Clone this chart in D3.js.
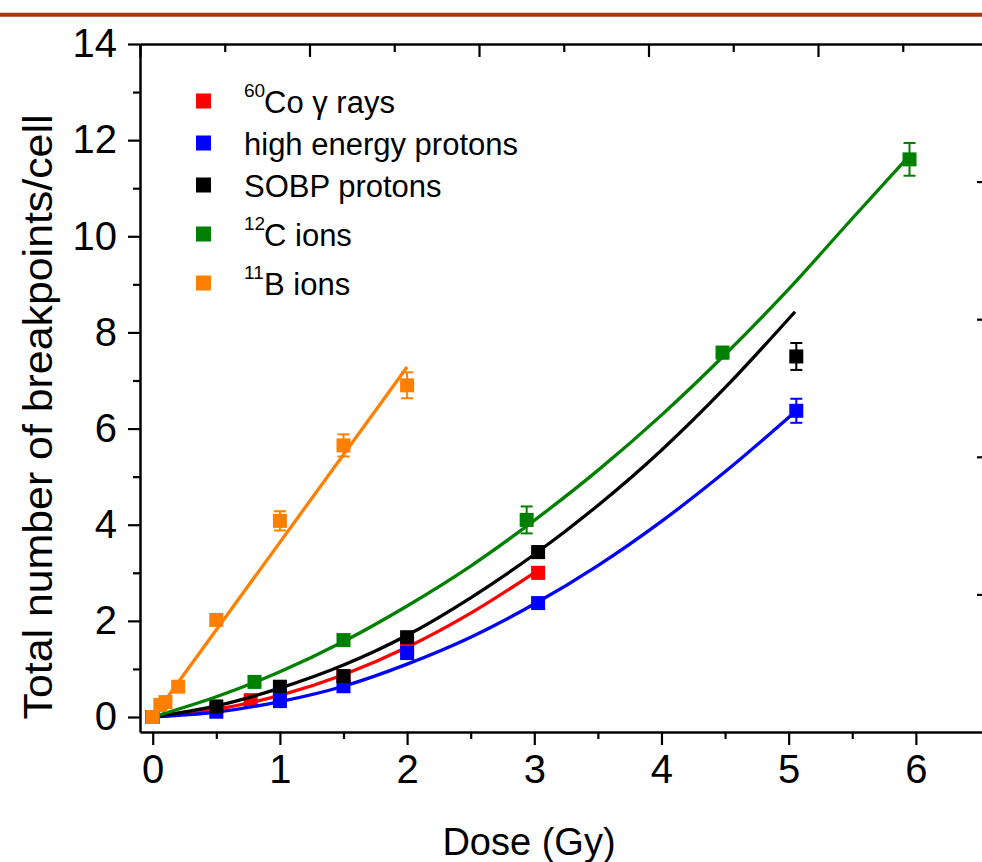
<!DOCTYPE html>
<html>
<head>
<meta charset="utf-8">
<script src="https://cdn.jsdelivr.net/npm/d3@7"></script>
<style>
  body { margin: 0; background: #fff; }
  svg { display: block; font-family: "Liberation Sans", Arial, sans-serif; }
</style>
</head>
<body>
<svg id="chart" width="982" height="862"></svg>
<script>
// measured points (dose in Gy, breakpoints per cell, error)
const coDose = [0, 0.77, 1, 1.5, 2, 3.03];
const coVal  = [0, 0.35, 0.42, 0.85, 1.45, 3.0];
const coErr  = [0, 0.08, 0.08, 0.08, 0.1, 0.12];

const hepDose = [0, 0.5, 1, 1.5, 2, 3.03, 5.06];
const hepVal  = [0, 0.11, 0.33, 0.64, 1.33, 2.37, 6.37];
const hepErr  = [0, 0.05, 0.06, 0.08, 0.1, 0.1, 0.25];

const sobpDose = [0, 0.5, 1, 1.5, 2, 3.03, 5.06];
const sobpVal  = [0, 0.22, 0.63, 0.85, 1.66, 3.43, 7.5];
const sobpErr  = [0, 0.05, 0.08, 0.1, 0.1, 0.12, 0.28];

const cDose = [0, 0.8, 1.5, 2.94, 4.48, 5.95];
const cVal  = [0, 0.73, 1.6, 4.1, 7.58, 11.6];
const cErr  = [0, 0.08, 0.1, 0.28, 0.12, 0.34];

const bDose = [0, 0.06, 0.1, 0.2, 0.5, 1, 1.5, 2];
const bVal  = [0, 0.25, 0.31, 0.63, 2.02, 4.08, 5.65, 6.9];
const bErr  = [0, 0.05, 0.05, 0.08, 0.1, 0.2, 0.23, 0.27];

// fitted curves
const coFitDose = [0, 0.5, 1, 1.5, 2, 2.5, 3];
const coFitVal  = [0, 0.16, 0.45, 0.88, 1.45, 2.16, 3.0];

const hepFitDose = [0, 0.5, 1, 1.5, 2, 2.5, 3, 3.5, 4, 4.5, 5.06];
const hepFitVal  = [0, 0.1, 0.32, 0.64, 1.1, 1.66, 2.35, 3.15, 4.07, 5.1, 6.37];

const sobpFitDose = [0, 0.5, 1, 1.5, 2, 2.5, 3, 3.5, 4, 4.5, 5.05];
const sobpFitVal  = [0, 0.23, 0.6, 1.08, 1.7, 2.48, 3.38, 4.4, 5.55, 6.85, 8.43];

const cFitDose = [0, 0.5, 1, 1.5, 2, 2.5, 3, 3.5, 4, 4.5, 5, 5.5, 5.93];
const cFitVal  = [0, 0.42, 0.94, 1.57, 2.31, 3.14, 4.09, 5.13, 6.28, 7.54, 8.9, 10.37, 11.62];

const bFitDose = [0.03, 2.0];
const bFitVal  = [0.1, 7.28];

const xTicks = [0, 1, 2, 3, 4, 5, 6];
const xMinor = [0.5, 1.5, 2.5, 3.5, 4.5, 5.5];
const yTicks = [0, 2, 4, 6, 8, 10, 12, 14];
const yMinor = [1, 3, 5, 7, 9, 11, 13];

const series = [
  { sup: '60', label: 'Co \u03b3 rays', color: '#ff0000', dose: coDose, val: coVal, err: coErr, fd: coFitDose, fv: coFitVal },
  { sup: '', label: 'high energy protons', color: '#0000ff', dose: hepDose, val: hepVal, err: hepErr, fd: hepFitDose, fv: hepFitVal },
  { sup: '', label: 'SOBP protons', color: '#000000', dose: sobpDose, val: sobpVal, err: sobpErr, fd: sobpFitDose, fv: sobpFitVal },
  { sup: '12', label: 'C ions', color: '#008000', dose: cDose, val: cVal, err: cErr, fd: cFitDose, fv: cFitVal },
  { sup: '11', label: 'B ions', color: '#ff8000', dose: bDose, val: bVal, err: bErr, fd: bFitDose, fv: bFitVal },
];

const svg = d3.select('#chart');

// rust rule across the top of the page
svg.append('line')
  .attr('x1', 0).attr('x2', 982).attr('y1', 14.7).attr('y2', 14.7)
  .attr('stroke', '#a23a16').attr('stroke-width', 4);

const x = d3.scaleLinear().domain([-0.1, 6.52]).range([140, 982]);
const y = d3.scaleLinear().domain([-0.312, 14]).range([732, 44]);

// mirror axes (top, right) that carry only ticks
const xTop = d3.scaleLinear().domain([0, 10]).range([140, 987.5]);
const yRight = d3.scaleLinear().domain([0, 5]).range([732, 44]);

function styleAxis(g) {
  g.select('.domain').attr('stroke', '#000').attr('stroke-width', 2.5);
  g.selectAll('.tick line').attr('stroke', '#000').attr('stroke-width', 2.2);
  g.selectAll('.tick text').attr('fill', '#000').style('font-size', '40px');
}

// top
svg.append('g').attr('transform', 'translate(0,44)')
  .call(d3.axisTop(xTop).tickValues([0, 2, 4, 6, 8]).tickSize(-13).tickSizeOuter(0).tickFormat(''))
  .call(styleAxis);
svg.append('g').attr('transform', 'translate(0,44)')
  .call(d3.axisTop(xTop).tickValues([1, 3, 5, 7, 9]).tickSize(-8).tickFormat(''))
  .call(g => g.select('.domain').remove())
  .call(styleAxis);

// right
svg.append('g').attr('transform', 'translate(984,0)')
  .call(d3.axisRight(yRight).tickValues([1, 2, 3, 4]).tickSize(-7).tickFormat(''))
  .call(g => g.select('.domain').remove())
  .call(styleAxis);

// bottom
svg.append('g').attr('transform', 'translate(0,732)')
  .call(d3.axisBottom(x).tickValues(xTicks).tickSize(13).tickSizeOuter(0).tickPadding(10).tickFormat(d3.format('d')))
  .call(styleAxis)
  .call(g => g.selectAll('.tick text').attr('dy', '0.71em'));
svg.append('g').attr('transform', 'translate(0,732)')
  .call(d3.axisBottom(x).tickValues(xMinor).tickSize(7).tickFormat(''))
  .call(g => g.select('.domain').remove())
  .call(styleAxis);

// left
svg.append('g').attr('transform', 'translate(140,0)')
  .call(d3.axisLeft(y).tickValues(yTicks).tickSize(12).tickSizeOuter(0).tickPadding(11).tickFormat(d3.format('d')))
  .call(styleAxis);
svg.append('g').attr('transform', 'translate(140,0)')
  .call(d3.axisLeft(y).tickValues(yMinor).tickSize(7).tickFormat(''))
  .call(g => g.select('.domain').remove())
  .call(styleAxis);

// axis titles
svg.append('text')
  .attr('x', 529).attr('y', 855)
  .attr('text-anchor', 'middle')
  .style('font-size', '38px')
  .text('Dose (Gy)');

svg.append('text')
  .attr('transform', 'translate(52,417) rotate(-90)')
  .attr('text-anchor', 'middle')
  .attr('textLength', 605).attr('lengthAdjust', 'spacingAndGlyphs')
  .style('font-size', '40px')
  .text('Total number of breakpoints/cell');

// series: fit curve, error bars, markers
const line = d3.line().x(d => x(d[0])).y(d => y(d[1])).curve(d3.curveMonotoneX);
const ms = 14, cap = 6;

series.forEach(s => {
  const fit = s.fd.map((d, i) => [d, s.fv[i]]);
  svg.append('path')
    .datum(fit)
    .attr('fill', 'none')
    .attr('stroke', s.color)
    .attr('stroke-width', 3.3)
    .attr('d', line);

  const pts = s.dose.map((d, i) => ({ d, v: s.val[i], e: s.err[i] }));
  const g = svg.append('g');
  const eb = g.selectAll('g.err').data(pts.filter(p => p.e > 0)).join('g')
    .attr('stroke', s.color).attr('stroke-width', 2);
  eb.append('line')
    .attr('x1', p => x(p.d)).attr('x2', p => x(p.d))
    .attr('y1', p => y(p.v - p.e)).attr('y2', p => y(p.v + p.e));
  eb.append('line')
    .attr('x1', p => x(p.d) - cap).attr('x2', p => x(p.d) + cap)
    .attr('y1', p => y(p.v + p.e)).attr('y2', p => y(p.v + p.e));
  eb.append('line')
    .attr('x1', p => x(p.d) - cap).attr('x2', p => x(p.d) + cap)
    .attr('y1', p => y(p.v - p.e)).attr('y2', p => y(p.v - p.e));

  g.selectAll('rect').data(pts).join('rect')
    .attr('x', p => x(p.d) - ms / 2)
    .attr('y', p => y(p.v) - ms / 2)
    .attr('width', ms).attr('height', ms)
    .attr('fill', s.color);
});

// legend
let ly = 101;
series.forEach((s, i) => {
  if (i > 0) ly += 42 + (s.sup ? 7 : 0);
  const row = svg.append('g').attr('transform', `translate(0,${ly})`);
  row.append('rect')
    .attr('x', 196).attr('y', -7.5).attr('width', 15).attr('height', 15)
    .attr('fill', s.color);
  let tx = 244;
  if (s.sup) {
    row.append('text')
      .attr('x', tx).attr('y', -4)
      .style('font-size', '19px')
      .text(s.sup);
    tx = 264;
  }
  row.append('text')
    .attr('x', tx).attr('y', 12)
    .style('font-size', '31px')
    .text(s.label);
});
</script>
</body>
</html>
